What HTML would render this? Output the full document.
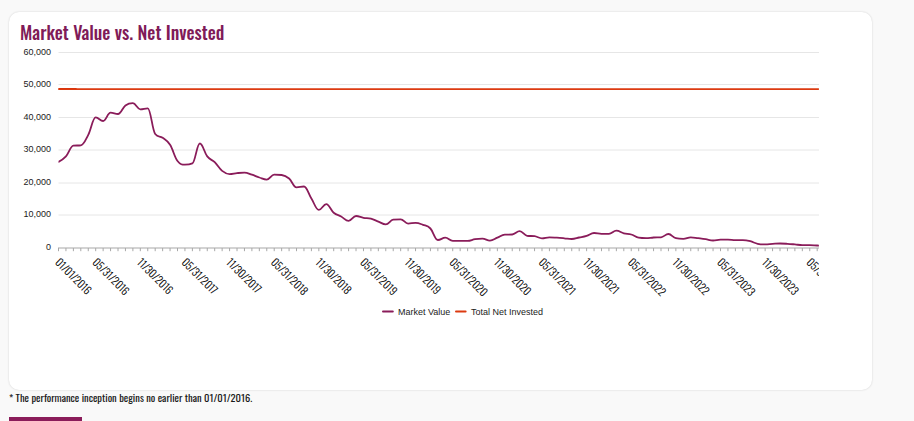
<!DOCTYPE html>
<html><head><meta charset="utf-8">
<style>
html,body{margin:0;padding:0;}
body{width:914px;height:421px;background:#f9f9f9;position:relative;overflow:hidden;font-family:"Liberation Sans",Arial,sans-serif;}
.card{position:absolute;left:9px;top:12px;width:863px;height:378px;background:#fff;border-radius:10px;box-shadow:0 0 2px rgba(0,0,0,0.18);}
.tt{font-family:"Oswald","Liberation Sans",sans-serif;font-weight:500;font-size:18.5px;fill:#801b58;}
svg{position:absolute;left:0;top:0;}
.g{stroke:#e6e6e6;stroke-width:1;fill:none;}
.yl{font-family:"Liberation Sans",Arial,sans-serif;font-size:9.6px;fill:#1a1a1a;}
.xl{font-family:"Oswald","Liberation Sans",sans-serif;font-size:10.6px;font-weight:300;fill:#000;stroke:#000;stroke-width:0.1px;}
.lg{font-family:"Liberation Sans",Arial,sans-serif;font-size:9.6px;fill:#1a1a1a;}
.nt{font-family:"Oswald","Liberation Sans",sans-serif;font-size:10.5px;font-weight:400;fill:#1a1a1a;}
.bar{position:absolute;left:9px;top:417px;width:73px;height:4px;background:#8a1c5a;}
</style></head><body>
<div class="card"></div>
<svg width="914" height="421" viewBox="0 0 914 421">
<text x="20" y="39.9" class="tt" textLength="204.2" lengthAdjust="spacingAndGlyphs">Market Value vs. Net Invested</text>
<text x="9" y="402.2" class="nt" textLength="243.2" lengthAdjust="spacingAndGlyphs">* The performance inception begins no earlier than 01/01/2016.</text>
<path d="M 58.5 52.5 L 819 52.5" class="g"/><path d="M 58.5 84.5 L 819 84.5" class="g"/><path d="M 58.5 117.5 L 819 117.5" class="g"/><path d="M 58.5 150.0 L 819 150.0" class="g"/><path d="M 58.5 183.0 L 819 183.0" class="g"/><path d="M 58.5 215.0 L 819 215.0" class="g"/>
<path d="M 58 248 L 819 248" stroke="#c4c4c4" stroke-width="1.6"/>
<path d="M 58.50 248 L 58.50 251.2 M 65.94 248 L 65.94 251.2 M 73.38 248 L 73.38 251.2 M 80.81 248 L 80.81 251.2 M 88.25 248 L 88.25 251.2 M 95.69 248 L 95.69 251.2 M 103.13 248 L 103.13 251.2 M 110.57 248 L 110.57 251.2 M 118.01 248 L 118.01 251.2 M 125.44 248 L 125.44 251.2 M 132.88 248 L 132.88 251.2 M 140.32 248 L 140.32 251.2 M 147.76 248 L 147.76 251.2 M 155.20 248 L 155.20 251.2 M 162.64 248 L 162.64 251.2 M 170.07 248 L 170.07 251.2 M 177.51 248 L 177.51 251.2 M 184.95 248 L 184.95 251.2 M 192.39 248 L 192.39 251.2 M 199.83 248 L 199.83 251.2 M 207.26 248 L 207.26 251.2 M 214.70 248 L 214.70 251.2 M 222.14 248 L 222.14 251.2 M 229.58 248 L 229.58 251.2 M 237.02 248 L 237.02 251.2 M 244.46 248 L 244.46 251.2 M 251.89 248 L 251.89 251.2 M 259.33 248 L 259.33 251.2 M 266.77 248 L 266.77 251.2 M 274.21 248 L 274.21 251.2 M 281.65 248 L 281.65 251.2 M 289.09 248 L 289.09 251.2 M 296.52 248 L 296.52 251.2 M 303.96 248 L 303.96 251.2 M 311.40 248 L 311.40 251.2 M 318.84 248 L 318.84 251.2 M 326.28 248 L 326.28 251.2 M 333.71 248 L 333.71 251.2 M 341.15 248 L 341.15 251.2 M 348.59 248 L 348.59 251.2 M 356.03 248 L 356.03 251.2 M 363.47 248 L 363.47 251.2 M 370.91 248 L 370.91 251.2 M 378.34 248 L 378.34 251.2 M 385.78 248 L 385.78 251.2 M 393.22 248 L 393.22 251.2 M 400.66 248 L 400.66 251.2 M 408.10 248 L 408.10 251.2 M 415.54 248 L 415.54 251.2 M 422.97 248 L 422.97 251.2 M 430.41 248 L 430.41 251.2 M 437.85 248 L 437.85 251.2 M 445.29 248 L 445.29 251.2 M 452.73 248 L 452.73 251.2 M 460.16 248 L 460.16 251.2 M 467.60 248 L 467.60 251.2 M 475.04 248 L 475.04 251.2 M 482.48 248 L 482.48 251.2 M 489.92 248 L 489.92 251.2 M 497.36 248 L 497.36 251.2 M 504.79 248 L 504.79 251.2 M 512.23 248 L 512.23 251.2 M 519.67 248 L 519.67 251.2 M 527.11 248 L 527.11 251.2 M 534.55 248 L 534.55 251.2 M 541.99 248 L 541.99 251.2 M 549.42 248 L 549.42 251.2 M 556.86 248 L 556.86 251.2 M 564.30 248 L 564.30 251.2 M 571.74 248 L 571.74 251.2 M 579.18 248 L 579.18 251.2 M 586.61 248 L 586.61 251.2 M 594.05 248 L 594.05 251.2 M 601.49 248 L 601.49 251.2 M 608.93 248 L 608.93 251.2 M 616.37 248 L 616.37 251.2 M 623.81 248 L 623.81 251.2 M 631.24 248 L 631.24 251.2 M 638.68 248 L 638.68 251.2 M 646.12 248 L 646.12 251.2 M 653.56 248 L 653.56 251.2 M 661.00 248 L 661.00 251.2 M 668.44 248 L 668.44 251.2 M 675.87 248 L 675.87 251.2 M 683.31 248 L 683.31 251.2 M 690.75 248 L 690.75 251.2 M 698.19 248 L 698.19 251.2 M 705.63 248 L 705.63 251.2 M 713.06 248 L 713.06 251.2 M 720.50 248 L 720.50 251.2 M 727.94 248 L 727.94 251.2 M 735.38 248 L 735.38 251.2 M 742.82 248 L 742.82 251.2 M 750.26 248 L 750.26 251.2 M 757.69 248 L 757.69 251.2 M 765.13 248 L 765.13 251.2 M 772.57 248 L 772.57 251.2 M 780.01 248 L 780.01 251.2 M 787.45 248 L 787.45 251.2 M 794.89 248 L 794.89 251.2 M 802.32 248 L 802.32 251.2 M 809.76 248 L 809.76 251.2 M 817.20 248 L 817.20 251.2 " stroke="#a8a8a8" stroke-width="1"/>
<text transform="translate(51,249.80) scale(0.9375,1)" text-anchor="end" class="yl">0</text><text transform="translate(51,217.30) scale(0.9375,1)" text-anchor="end" class="yl">10,000</text><text transform="translate(51,184.80) scale(0.9375,1)" text-anchor="end" class="yl">20,000</text><text transform="translate(51,152.30) scale(0.9375,1)" text-anchor="end" class="yl">30,000</text><text transform="translate(51,119.80) scale(0.9375,1)" text-anchor="end" class="yl">40,000</text><text transform="translate(51,87.30) scale(0.9375,1)" text-anchor="end" class="yl">50,000</text><text transform="translate(51,54.80) scale(0.9375,1)" text-anchor="end" class="yl">60,000</text>
<defs><clipPath id="c"><rect x="0" y="0" width="819" height="421"/></clipPath></defs>
<g clip-path="url(#c)"><text transform="translate(54.50,263.2) rotate(45)" class="xl" textLength="45.20" lengthAdjust="spacingAndGlyphs">01/01/2016</text><text transform="translate(91.69,263.2) rotate(45)" class="xl" textLength="46.20" lengthAdjust="spacingAndGlyphs">05/31/2016</text><text transform="translate(136.32,263.2) rotate(45)" class="xl" textLength="44.84" lengthAdjust="spacingAndGlyphs">11/30/2016</text><text transform="translate(180.95,263.2) rotate(45)" class="xl" textLength="44.83" lengthAdjust="spacingAndGlyphs">05/31/2017</text><text transform="translate(225.58,263.2) rotate(45)" class="xl" textLength="43.45" lengthAdjust="spacingAndGlyphs">11/30/2017</text><text transform="translate(270.21,263.2) rotate(45)" class="xl" textLength="46.20" lengthAdjust="spacingAndGlyphs">05/31/2018</text><text transform="translate(314.84,263.2) rotate(45)" class="xl" textLength="44.84" lengthAdjust="spacingAndGlyphs">11/30/2018</text><text transform="translate(359.47,263.2) rotate(45)" class="xl" textLength="46.23" lengthAdjust="spacingAndGlyphs">05/31/2019</text><text transform="translate(404.10,263.2) rotate(45)" class="xl" textLength="44.86" lengthAdjust="spacingAndGlyphs">11/30/2019</text><text transform="translate(448.73,263.2) rotate(45)" class="xl" textLength="47.84" lengthAdjust="spacingAndGlyphs">05/31/2020</text><text transform="translate(493.36,263.2) rotate(45)" class="xl" textLength="46.48" lengthAdjust="spacingAndGlyphs">11/30/2020</text><text transform="translate(537.99,263.2) rotate(45)" class="xl" textLength="46.06" lengthAdjust="spacingAndGlyphs">05/31/2021</text><text transform="translate(582.61,263.2) rotate(45)" class="xl" textLength="44.69" lengthAdjust="spacingAndGlyphs">11/30/2021</text><text transform="translate(627.24,263.2) rotate(45)" class="xl" textLength="47.52" lengthAdjust="spacingAndGlyphs">05/31/2022</text><text transform="translate(671.87,263.2) rotate(45)" class="xl" textLength="46.14" lengthAdjust="spacingAndGlyphs">11/30/2022</text><text transform="translate(716.50,263.2) rotate(45)" class="xl" textLength="47.48" lengthAdjust="spacingAndGlyphs">05/31/2023</text><text transform="translate(761.13,263.2) rotate(45)" class="xl" textLength="46.11" lengthAdjust="spacingAndGlyphs">11/30/2023</text><text transform="translate(805.76,263.2) rotate(45)" class="xl" textLength="47.53" lengthAdjust="spacingAndGlyphs">05/31/2024</text></g>
<clipPath id="pc"><rect x="58.5" y="40" width="760.4" height="215"/></clipPath>
<g clip-path="url(#pc)"><path d="M 58.5 89 L 75.8 89" stroke="#d42a00" stroke-width="2" stroke-linecap="round"/><path d="M 58.50 89.20 C 58.50 89.20 62.96 89.20 65.94 89.20 C 68.91 89.20 70.40 89.20 73.38 89.20 C 76.35 89.20 77.84 89.20 80.81 89.20 C 83.79 89.20 85.28 89.20 88.25 89.20 C 91.23 89.20 92.72 89.20 95.69 89.20 C 98.67 89.20 100.15 89.20 103.13 89.20 C 106.10 89.20 107.59 89.20 110.57 89.20 C 113.54 89.20 115.03 89.20 118.01 89.20 C 120.98 89.20 122.47 89.20 125.44 89.20 C 128.42 89.20 129.91 89.20 132.88 89.20 C 135.86 89.20 137.35 89.20 140.32 89.20 C 143.30 89.20 144.78 89.20 147.76 89.20 C 150.73 89.20 152.22 89.20 155.20 89.20 C 158.17 89.20 159.66 89.20 162.64 89.20 C 165.61 89.20 167.10 89.20 170.07 89.20 C 173.05 89.20 174.54 89.20 177.51 89.20 C 180.49 89.20 181.97 89.20 184.95 89.20 C 187.93 89.20 189.41 89.20 192.39 89.20 C 195.36 89.20 196.85 89.20 199.83 89.20 C 202.80 89.20 204.29 89.20 207.26 89.20 C 210.24 89.20 211.73 89.20 214.70 89.20 C 217.68 89.20 219.17 89.20 222.14 89.20 C 225.12 89.20 226.60 89.20 229.58 89.20 C 232.55 89.20 234.04 89.20 237.02 89.20 C 239.99 89.20 241.48 89.20 244.46 89.20 C 247.43 89.20 248.92 89.20 251.89 89.20 C 254.87 89.20 256.36 89.20 259.33 89.20 C 262.31 89.20 263.80 89.20 266.77 89.20 C 269.75 89.20 271.23 89.20 274.21 89.20 C 277.18 89.20 278.67 89.20 281.65 89.20 C 284.62 89.20 286.11 89.20 289.09 89.20 C 292.06 89.20 293.55 89.20 296.52 89.20 C 299.50 89.20 300.99 89.20 303.96 89.20 C 306.94 89.20 308.42 89.20 311.40 89.20 C 314.38 89.20 315.86 89.20 318.84 89.20 C 321.81 89.20 323.30 89.20 326.28 89.20 C 329.25 89.20 330.74 89.20 333.71 89.20 C 336.69 89.20 338.18 89.20 341.15 89.20 C 344.13 89.20 345.62 89.20 348.59 89.20 C 351.57 89.20 353.05 89.20 356.03 89.20 C 359.00 89.20 360.49 89.20 363.47 89.20 C 366.44 89.20 367.93 89.20 370.91 89.20 C 373.88 89.20 375.37 89.20 378.34 89.20 C 381.32 89.20 382.81 89.20 385.78 89.20 C 388.76 89.20 390.25 89.20 393.22 89.20 C 396.20 89.20 397.68 89.20 400.66 89.20 C 403.63 89.20 405.12 89.20 408.10 89.20 C 411.07 89.20 412.56 89.20 415.54 89.20 C 418.51 89.20 420.00 89.20 422.97 89.20 C 425.95 89.20 427.44 89.20 430.41 89.20 C 433.39 89.20 434.87 89.20 437.85 89.20 C 440.83 89.20 442.31 89.20 445.29 89.20 C 448.26 89.20 449.75 89.20 452.73 89.20 C 455.70 89.20 457.19 89.20 460.16 89.20 C 463.14 89.20 464.63 89.20 467.60 89.20 C 470.58 89.20 472.07 89.20 475.04 89.20 C 478.02 89.20 479.50 89.20 482.48 89.20 C 485.45 89.20 486.94 89.20 489.92 89.20 C 492.89 89.20 494.38 89.20 497.36 89.20 C 500.33 89.20 501.82 89.20 504.79 89.20 C 507.77 89.20 509.26 89.20 512.23 89.20 C 515.21 89.20 516.70 89.20 519.67 89.20 C 522.65 89.20 524.13 89.20 527.11 89.20 C 530.08 89.20 531.57 89.20 534.55 89.20 C 537.52 89.20 539.01 89.20 541.99 89.20 C 544.96 89.20 546.45 89.20 549.42 89.20 C 552.40 89.20 553.89 89.20 556.86 89.20 C 559.84 89.20 561.32 89.20 564.30 89.20 C 567.28 89.20 568.76 89.20 571.74 89.20 C 574.71 89.20 576.20 89.20 579.18 89.20 C 582.15 89.20 583.64 89.20 586.61 89.20 C 589.59 89.20 591.08 89.20 594.05 89.20 C 597.03 89.20 598.52 89.20 601.49 89.20 C 604.47 89.20 605.95 89.20 608.93 89.20 C 611.90 89.20 613.39 89.20 616.37 89.20 C 619.34 89.20 620.83 89.20 623.81 89.20 C 626.78 89.20 628.27 89.20 631.24 89.20 C 634.22 89.20 635.71 89.20 638.68 89.20 C 641.66 89.20 643.15 89.20 646.12 89.20 C 649.10 89.20 650.58 89.20 653.56 89.20 C 656.53 89.20 658.02 89.20 661.00 89.20 C 663.97 89.20 665.46 89.20 668.44 89.20 C 671.41 89.20 672.90 89.20 675.87 89.20 C 678.85 89.20 680.34 89.20 683.31 89.20 C 686.29 89.20 687.77 89.20 690.75 89.20 C 693.73 89.20 695.21 89.20 698.19 89.20 C 701.16 89.20 702.65 89.20 705.63 89.20 C 708.60 89.20 710.09 89.20 713.06 89.20 C 716.04 89.20 717.53 89.20 720.50 89.20 C 723.48 89.20 724.97 89.20 727.94 89.20 C 730.92 89.20 732.40 89.20 735.38 89.20 C 738.35 89.20 739.84 89.20 742.82 89.20 C 745.79 89.20 747.28 89.20 750.26 89.20 C 753.23 89.20 754.72 89.20 757.69 89.20 C 760.67 89.20 762.16 89.20 765.13 89.20 C 768.11 89.20 769.60 89.20 772.57 89.20 C 775.55 89.20 777.03 89.20 780.01 89.20 C 782.98 89.20 784.47 89.20 787.45 89.20 C 790.42 89.20 791.91 89.20 794.89 89.20 C 797.86 89.20 799.35 89.20 802.32 89.20 C 805.30 89.20 806.79 89.20 809.76 89.20 C 812.74 89.20 814.22 89.20 817.20 89.20 C 818.72 89.20 821.00 89.20 821.00 89.20" stroke="#dc3a10" stroke-width="1.8" fill="none" stroke-linecap="round" stroke-linejoin="round"/>
<path d="M 58.50 161.90 C 58.50 161.90 62.96 159.64 65.94 156.40 C 68.91 153.16 70.40 146.10 73.38 145.70 C 76.35 145.30 77.84 145.70 80.81 145.30 C 83.79 144.90 85.28 140.48 88.25 134.90 C 91.23 129.32 92.72 117.40 95.69 117.40 C 98.67 117.40 100.15 121.00 103.13 121.00 C 106.10 121.00 107.59 112.70 110.57 112.70 C 113.54 112.70 115.03 114.00 118.01 114.00 C 120.98 114.00 122.47 107.66 125.44 105.50 C 128.42 103.34 129.91 103.20 132.88 103.20 C 135.86 103.20 137.35 109.30 140.32 109.30 C 143.30 109.30 144.78 108.30 147.76 108.30 C 150.73 108.30 152.22 130.20 155.20 134.00 C 158.17 137.80 159.66 135.64 162.64 137.80 C 165.61 139.96 167.10 140.16 170.07 144.80 C 173.05 149.44 174.54 157.30 177.51 161.00 C 180.49 164.70 181.97 164.70 184.95 164.70 C 187.93 164.70 189.41 164.70 192.39 163.40 C 195.36 162.10 196.85 143.50 199.83 143.50 C 202.80 143.50 204.29 152.66 207.26 156.40 C 210.24 160.14 211.73 159.30 214.70 162.20 C 217.68 165.10 219.17 168.52 222.14 170.90 C 225.12 173.28 226.60 174.10 229.58 174.10 C 232.55 174.10 234.04 173.40 237.02 173.10 C 239.99 172.80 241.48 172.60 244.46 172.60 C 247.43 172.60 248.92 173.72 251.89 174.70 C 254.87 175.68 256.36 176.52 259.33 177.50 C 262.31 178.48 263.80 179.60 266.77 179.60 C 269.75 179.60 271.23 174.70 274.21 174.70 C 277.18 174.70 278.67 174.70 281.65 175.00 C 284.62 175.30 286.11 176.02 289.09 178.50 C 292.06 180.98 293.55 187.40 296.52 187.40 C 299.50 187.40 300.99 186.50 303.96 186.50 C 306.94 186.50 308.42 193.82 311.40 198.50 C 314.38 203.18 315.86 209.90 318.84 209.90 C 321.81 209.90 323.30 204.20 326.28 204.20 C 329.25 204.20 330.74 210.24 333.71 212.70 C 336.69 215.16 338.18 214.86 341.15 216.50 C 344.13 218.14 345.62 220.90 348.59 220.90 C 351.57 220.90 353.05 216.00 356.03 216.00 C 359.00 216.00 360.49 217.26 363.47 217.80 C 366.44 218.34 367.93 217.94 370.91 218.70 C 373.88 219.46 375.37 220.46 378.34 221.60 C 381.32 222.74 382.81 224.40 385.78 224.40 C 388.76 224.40 390.25 220.10 393.22 219.70 C 396.20 219.30 397.68 219.30 400.66 219.30 C 403.63 219.30 405.12 223.60 408.10 223.60 C 411.07 223.60 412.56 222.80 415.54 222.80 C 418.51 222.80 420.00 223.66 422.97 224.80 C 425.95 225.94 427.44 225.46 430.41 228.50 C 433.39 231.54 434.87 240.00 437.85 240.00 C 440.83 240.00 442.31 237.70 445.29 237.70 C 448.26 237.70 449.75 240.90 452.73 240.90 C 455.70 240.90 457.19 240.90 460.16 240.90 C 463.14 240.90 464.63 240.90 467.60 240.90 C 470.58 240.90 472.07 239.64 475.04 239.20 C 478.02 238.76 479.50 238.70 482.48 238.70 C 485.45 238.70 486.94 240.60 489.92 240.60 C 492.89 240.60 494.38 238.90 497.36 237.70 C 500.33 236.50 501.82 234.70 504.79 234.60 C 507.77 234.50 509.26 234.60 512.23 234.50 C 515.21 234.40 516.70 231.20 519.67 231.20 C 522.65 231.20 524.13 235.40 527.11 235.80 C 530.08 236.20 531.57 235.80 534.55 236.20 C 537.52 236.60 539.01 238.30 541.99 238.30 C 544.96 238.30 546.45 237.30 549.42 237.30 C 552.40 237.30 553.89 237.50 556.86 237.70 C 559.84 237.90 561.32 238.04 564.30 238.30 C 567.28 238.56 568.76 239.00 571.74 239.00 C 574.71 239.00 576.20 238.14 579.18 237.50 C 582.15 236.86 583.64 236.70 586.61 235.80 C 589.59 234.90 591.08 233.00 594.05 233.00 C 597.03 233.00 598.52 233.90 601.49 233.90 C 604.47 233.90 605.95 233.90 608.93 233.90 C 611.90 233.90 613.39 230.70 616.37 230.70 C 619.34 230.70 620.83 232.54 623.81 233.30 C 626.78 234.06 628.27 233.62 631.24 234.50 C 634.22 235.38 635.71 237.20 638.68 237.70 C 641.66 238.20 643.15 238.20 646.12 238.20 C 649.10 238.20 650.58 237.68 653.56 237.50 C 656.53 237.32 658.02 237.50 661.00 237.30 C 663.97 237.10 665.46 234.00 668.44 234.00 C 671.41 234.00 672.90 237.60 675.87 238.20 C 678.85 238.80 680.34 238.80 683.31 238.80 C 686.29 238.80 687.77 237.30 690.75 237.30 C 693.73 237.30 695.21 237.82 698.19 238.20 C 701.16 238.58 702.65 238.74 705.63 239.20 C 708.60 239.66 710.09 240.50 713.06 240.50 C 716.04 240.50 717.53 239.70 720.50 239.70 C 723.48 239.70 724.97 239.70 727.94 239.70 C 730.92 239.70 732.40 240.10 735.38 240.10 C 738.35 240.10 739.84 240.10 742.82 240.10 C 745.79 240.10 747.28 240.46 750.26 241.20 C 753.23 241.94 754.72 243.20 757.69 243.80 C 760.67 244.40 762.16 244.40 765.13 244.40 C 768.11 244.40 769.60 244.08 772.57 243.90 C 775.55 243.72 777.03 243.50 780.01 243.50 C 782.98 243.50 784.47 243.62 787.45 243.80 C 790.42 243.98 791.91 244.14 794.89 244.40 C 797.86 244.66 799.35 245.10 802.32 245.10 C 805.30 245.10 806.79 245.10 809.76 245.10 C 812.74 245.10 814.22 245.37 817.20 245.50 C 818.72 245.57 821.00 245.60 821.00 245.60" stroke="#8a1c5a" stroke-width="1.8" fill="none" stroke-linecap="round" stroke-linejoin="round"/></g>
<path d="M 383 311.4 L 392.8 311.4" stroke="#8a1c5a" stroke-width="2" stroke-linecap="round"/>
<text transform="translate(398,314.8) scale(0.9375,1)" class="lg">Market Value</text>
<path d="M 456 311.4 L 465.6 311.4" stroke="#dc3a10" stroke-width="2" stroke-linecap="round"/>
<text transform="translate(471,314.8) scale(0.9375,1)" class="lg">Total Net Invested</text>
</svg>
<div class="bar"></div>
</body></html>
